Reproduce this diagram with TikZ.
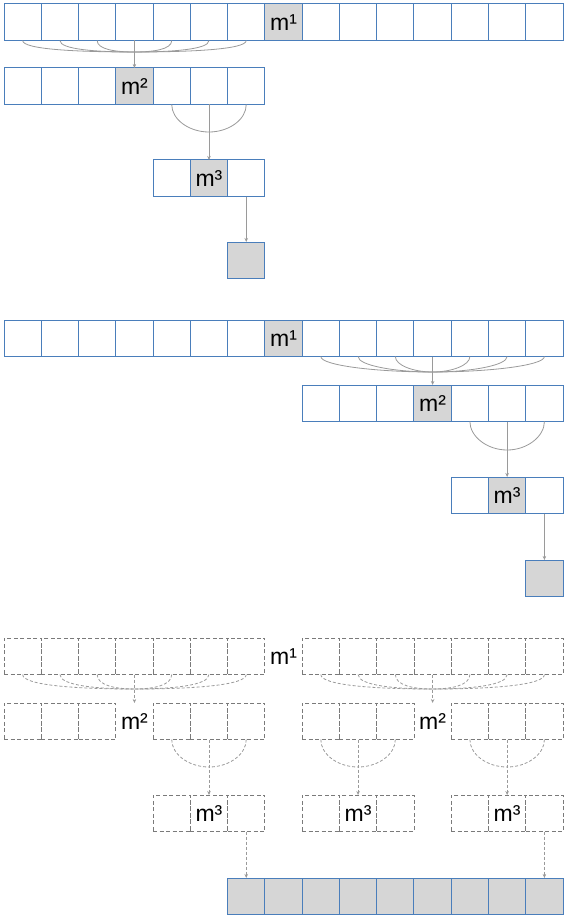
\documentclass[tikz,border=0pt]{standalone}
\usepackage{fontspec}
\setmainfont{Liberation Sans}
\usetikzlibrary{arrows.meta}
\definecolor{cellblue}{HTML}{4A7EBB}
\definecolor{cellgray}{HTML}{D6D6D6}
\definecolor{conngray}{HTML}{9A9A9A}
\definecolor{dashgray}{HTML}{7A7A7A}
\begin{document}
\begin{tikzpicture}[x=1pt,y=-1pt,
  cellbox/.style={rectangle, draw=cellblue, line width=1pt, minimum width=37.27pt, minimum height=36.5pt, inner sep=0pt, outer sep=0pt, anchor=north west, font=\fontsize{23}{23}\selectfont},
  mcell/.style={cellbox, fill=cellgray},
  dcell/.style={rectangle, draw=dashgray, line width=0.8pt, dash pattern=on 4pt off 2.5pt, minimum width=37.27pt, minimum height=36.5pt, inner sep=0pt, outer sep=0pt, anchor=north west, font=\fontsize{23}{23}\selectfont},
  dmcell/.style={rectangle, minimum width=37.27pt, minimum height=36.5pt, inner sep=0pt, outer sep=0pt, anchor=north west, font=\fontsize{23}{23}\selectfont},
  conn/.style={draw=conngray, line width=0.8pt},
  dconn/.style={conn, dash pattern=on 3pt off 2pt},
  arr/.style={-{Stealth[length=4pt,width=3.5pt]}}
]
\useasboundingbox (0,0) rectangle (565,920);

% ---------------- Group A ----------------
\foreach \i in {0,...,6,8,9,...,14} \node[cellbox] (A1-\i) at ({4+37.27*\i},4) {};
\node[mcell] (A1-7) at ({4+37.27*7},4) {m¹};
\foreach \i in {0,1,2,4,5,6} \node[cellbox] (A2-\i) at ({4+37.27*\i},68) {};
\node[mcell] (A2-3) at ({4+37.27*3},68) {m²};
\foreach \j in {0,2} \node[cellbox] (A3-\j) at ({4+37.27*(4+\j)},160) {};
\node[mcell] (A3-1) at ({4+37.27*5},160) {m³};
\node[mcell] (A4) at ({4+37.27*6},242) {};

\coordinate (mA1) at (134.4,52);
\foreach \i/\c in {0/-55.9,1/-37.3,2/-18.6,4/18.6,5/37.3,6/55.9}
  \draw[conn] (A1-\i.south) .. controls +(0,9) and +(\c,0) .. (mA1);
\draw[conn,arr] (A1-3.south) -- (A2-3.north);
\coordinate (mA2) at (209,132);
\foreach \i/\c in {4/-20,6/20}
  \draw[conn] (A2-\i.south) .. controls +(0,15) and +(\c,0) .. (mA2);
\draw[conn,arr] (A2-5.south) -- (A3-1.north);
\draw[conn,arr] (A3-2.south) -- (A4.north);

% ---------------- Group B ----------------
\foreach \i in {0,...,6,8,9,...,14} \node[cellbox] (B1-\i) at ({4+37.27*\i},320) {};
\node[mcell] (B1-7) at ({4+37.27*7},320) {m¹};
\foreach \j in {0,1,2,4,5,6} \node[cellbox] (B2-\j) at ({4+37.27*(8+\j)},385) {};
\node[mcell] (B2-3) at ({4+37.27*11},385) {m²};
\foreach \j in {0,2} \node[cellbox] (B3-\j) at ({4+37.27*(12+\j)},477) {};
\node[mcell] (B3-1) at ({4+37.27*13},477) {m³};
\node[mcell] (B4) at ({4+37.27*14},560) {};

\coordinate (mB1) at (432.6,372);
\foreach \i/\c in {8/-55.9,9/-37.3,10/-18.6,12/18.6,13/37.3,14/55.9}
  \draw[conn] (B1-\i.south) .. controls +(0,9) and +(\c,0) .. (mB1);
\draw[conn,arr] (B1-11.south) -- (B2-3.north);
\coordinate (mB2) at (507.1,450);
\foreach \i/\c in {4/-20,6/20}
  \draw[conn] (B2-\i.south) .. controls +(0,15) and +(\c,0) .. (mB2);
\draw[conn,arr] (B2-5.south) -- (B3-1.north);
\draw[conn,arr] (B3-2.south) -- (B4.north);

% ---------------- Group C ----------------
\foreach \i in {0,...,6,8,9,...,14} \node[dcell] (C1-\i) at ({4+37.27*\i},638) {};
\node[dmcell] (C1-7) at ({4+37.27*7},638) {m¹};
\foreach \j in {0,1,2,4,5,6} \node[dcell] (CL2-\j) at ({4+37.27*\j},703) {};
\node[dmcell] (CL2-3) at ({4+37.27*3},703) {m²};
\foreach \j in {0,1,2,4,5,6} \node[dcell] (CR2-\j) at ({4+37.27*(8+\j)},703) {};
\node[dmcell] (CR2-3) at ({4+37.27*11},703) {m²};
\foreach \j in {0,2} {
  \node[dcell] (CL3-\j) at ({4+37.27*(4+\j)},795) {};
  \node[dcell] (CM3-\j) at ({4+37.27*(8+\j)},795) {};
  \node[dcell] (CR3-\j) at ({4+37.27*(12+\j)},795) {};
}
\node[dcell] (CL3-1) at ({4+37.27*5},795) {m³};
\node[dcell] (CM3-1) at ({4+37.27*9},795) {m³};
\node[dcell] (CR3-1) at ({4+37.27*13},795) {m³};
\foreach \j in {0,...,8} \node[mcell] (C4-\j) at ({4+37.27*(6+\j)},878) {};

\coordinate (mCL1) at (134.4,689);
\foreach \i/\c in {0/-55.9,1/-37.3,2/-18.6,4/18.6,5/37.3,6/55.9}
  \draw[dconn] (C1-\i.south) .. controls +(0,11) and +(\c,0) .. (mCL1);
\draw[dconn,arr] (C1-3.south) -- (CL2-3.north);
\coordinate (mCR1) at (432.6,689);
\foreach \i/\c in {8/-55.9,9/-37.3,10/-18.6,12/18.6,13/37.3,14/55.9}
  \draw[dconn] (C1-\i.south) .. controls +(0,11) and +(\c,0) .. (mCR1);
\draw[dconn,arr] (C1-11.south) -- (CR2-3.north);

\coordinate (mCL2) at (209,767);
\foreach \i/\c in {4/-20,6/20}
  \draw[dconn] (CL2-\i.south) .. controls +(0,15) and +(\c,0) .. (mCL2);
\draw[dconn,arr] (CL2-5.south) -- (CL3-1.north);
\coordinate (mCM2) at (358,767);
\foreach \i/\c in {0/-20,2/20}
  \draw[dconn] (CR2-\i.south) .. controls +(0,15) and +(\c,0) .. (mCM2);
\draw[dconn,arr] (CR2-1.south) -- (CM3-1.north);
\coordinate (mCR2) at (507.1,767);
\foreach \i/\c in {4/-20,6/20}
  \draw[dconn] (CR2-\i.south) .. controls +(0,15) and +(\c,0) .. (mCR2);
\draw[dconn,arr] (CR2-5.south) -- (CR3-1.north);

\draw[dconn,arr] (CL3-2.south) -- (C4-0.north);
\draw[dconn,arr] (CR3-2.south) -- (C4-8.north);
\end{tikzpicture}
\end{document}
